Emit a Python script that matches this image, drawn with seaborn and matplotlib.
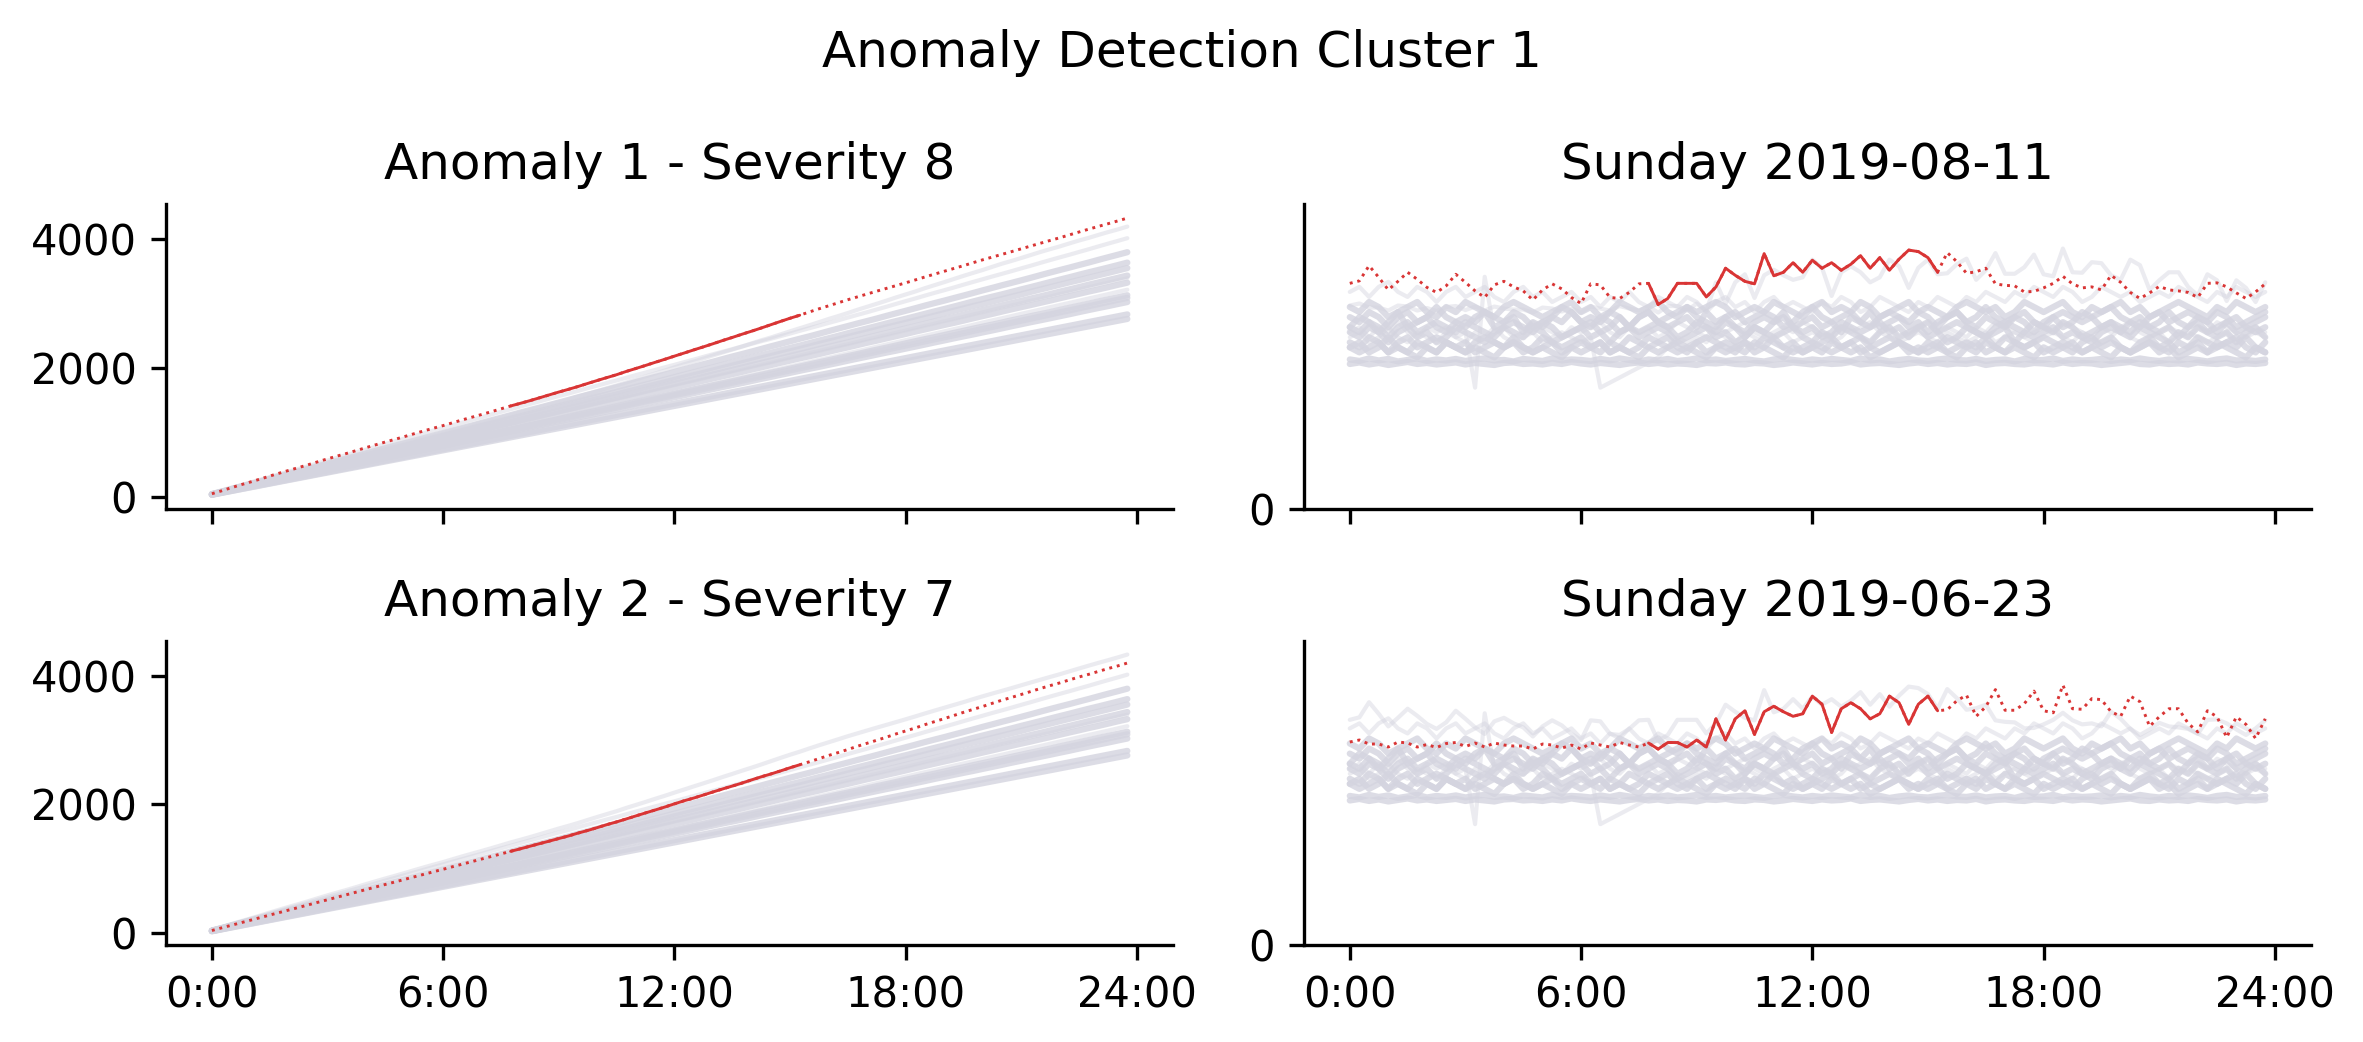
import numpy as np
import pandas as pd
import matplotlib
matplotlib.use("Agg")
import matplotlib.pyplot as plt
import seaborn as sns

# -----------------------------
# Data (15 minute slots, 96 per day)
# -----------------------------
n_slots = 96
hours = np.arange(n_slots) / 4

panel_titles = ["Anomaly 1 - Severity 8", "Anomaly 2 - Severity 7"]
day_titles = ["Sunday 2019-08-11", "Sunday 2019-06-23"]
x_ticks = [0, 6, 12, 18, 24]
x_tick_labels = ["0:00", "6:00", "12:00", "18:00", "24:00"]

anomaly_1 = [
    44.7, 45.2, 48.2, 45.9, 43.4, 45.1, 46.9, 45.5, 43.9, 42.9, 44.2, 46.5,
    44.9, 43.2, 41.9, 44.4, 45.1, 44.0, 43.2, 41.4, 43.4, 44.6, 43.6, 41.9,
    40.7, 44.6, 44.4, 41.9, 41.7, 42.9, 44.6, 44.7, 40.5, 41.7, 44.7, 44.7,
    44.7, 42.0, 44.0, 47.7, 46.3, 45.1, 44.6, 50.6, 46.2, 46.9, 48.8, 46.9,
    49.3, 47.7, 48.8, 47.3, 48.5, 50.2, 47.7, 49.8, 47.3, 49.5, 51.3, 51.0,
    49.8, 46.9, 50.8, 49.0, 46.7, 47.0, 47.7, 44.6, 44.3, 44.2, 43.0, 43.1,
    43.8, 44.7, 46.1, 44.6, 43.8, 44.0, 43.4, 46.3, 44.9, 42.9, 41.7, 42.8,
    44.1, 43.4, 43.2, 42.9, 41.9, 44.7, 44.8, 44.0, 42.8, 41.7, 43.0, 44.6,
]
anomaly_2 = [
    40.3, 40.7, 39.9, 39.9, 39.3, 40.3, 40.1, 39.3, 39.8, 39.2, 40.0, 40.2,
    39.4, 40.1, 39.3, 40.1, 39.7, 39.5, 39.5, 38.9, 39.9, 39.7, 39.1, 39.7,
    38.9, 40.1, 39.7, 39.3, 40.2, 39.7, 39.3, 40.1, 38.9, 40.2, 40.2, 39.3,
    40.7, 39.3, 44.9, 40.7, 44.9, 46.5, 41.8, 46.3, 47.4, 46.3, 45.4, 45.9,
    49.4, 47.8, 42.2, 46.9, 48.1, 46.9, 44.9, 45.9, 49.4, 48.1, 43.8, 47.8,
    49.4, 46.5, 46.7, 48.5, 49.6, 45.4, 47.3, 50.7, 46.6, 46.6, 47.9, 50.4,
    46.5, 46.1, 51.6, 46.9, 46.8, 48.9, 48.7, 46.3, 45.4, 49.4, 48.3, 43.4,
    45.3, 46.9, 46.9, 44.0, 42.3, 46.5, 45.3, 41.2, 45.3, 43.8, 41.0, 44.9,
]
# anomalous window (slot index start, end) for each row
windows = [(31, 61), (31, 61)]

# other days of the cluster (grey background)
bg_high = [
    43, 44, 42, 44, 45, 43, 42, 44, 43, 41, 43, 44,
    42, 43, 44, 42, 41, 43, 44, 42, 43, 41, 42, 43,
    41, 42, 40, 42, 41, 43, 41, 40, 42, 41, 40, 42,
    41, 39, 41, 42, 40, 41, 39, 41, 42, 40, 41, 40,
    39, 41, 40, 42, 41, 39, 40, 42, 41, 40, 39, 41,
    40, 42, 41, 40, 42, 41, 43, 42, 41, 43, 42, 44,
    43, 42, 44, 43, 41, 42, 44, 43, 42, 43, 41, 42,
    43, 42, 44, 43, 42, 41, 43, 42, 44, 43, 42, 43,
]
bg_1 = [
    40, 39, 41, 40, 38, 39, 40, 41, 39, 38, 40, 39,
    41, 40, 39, 38, 40, 41, 40, 39, 38, 39, 40, 41,
    39, 40, 38, 39, 41, 40, 39, 40, 41, 39, 38, 40,
    39, 40, 41, 40, 38, 39, 40, 39, 41, 40, 39, 38,
    40, 41, 39, 40, 39, 41, 40, 38, 39, 40, 41, 39,
    40, 39, 38, 40, 41, 40, 39, 40, 38, 39, 41, 40,
    39, 40, 41, 39, 38, 40, 39, 40, 41, 39, 40, 38,
    39, 40, 41, 40, 39, 38, 40, 39, 41, 40, 39, 40,
]
bg_2 = [
    38, 37, 39, 38, 36, 38, 39, 37, 38, 40, 38, 37,
    36, 38, 39, 38, 37, 39, 38, 36, 37, 38, 40, 39,
    37, 38, 37, 39, 38, 36, 38, 39, 37, 38, 39, 40,
    38, 37, 36, 38, 39, 37, 38, 39, 38, 36, 37, 39,
    40, 38, 37, 38, 39, 37, 36, 38, 39, 38, 37, 39,
    38, 36, 38, 39, 37, 38, 40, 38, 37, 38, 39, 37,
    36, 38, 39, 38, 37, 38, 39, 40, 38, 37, 36, 38,
    39, 37, 38, 39, 38, 37, 39, 38, 36, 37, 38, 39,
]
bg_3 = [
    36, 38, 37, 35, 37, 39, 36, 37, 38, 36, 35, 37,
    38, 37, 39, 36, 37, 38, 35, 37, 36, 38, 37, 39,
    37, 36, 38, 37, 35, 36, 38, 39, 37, 36, 37, 38,
    36, 39, 37, 38, 36, 35, 37, 38, 37, 39, 36, 37,
    38, 36, 37, 35, 38, 37, 39, 36, 37, 38, 36, 37,
    35, 37, 38, 39, 37, 36, 38, 37, 36, 38, 37, 35,
    37, 38, 36, 37, 39, 38, 36, 37, 35, 37, 38, 36,
    37, 39, 37, 36, 38, 37, 35, 37, 38, 36, 37, 38,
]
bg_4 = [
    36, 35, 37, 36, 34, 36, 37, 35, 36, 37, 36, 35,
    37, 36, 35, 34, 36, 37, 36, 35, 37, 36, 34, 35,
    36, 37, 35, 36, 38, 36, 35, 36, 37, 36, 34, 35,
    37, 36, 35, 37, 36, 34, 36, 35, 37, 38, 36, 35,
    36, 34, 35, 37, 36, 35, 36, 37, 35, 36, 34, 36,
    37, 35, 36, 37, 36, 35, 34, 36, 37, 36, 35, 37,
    36, 35, 37, 36, 34, 35, 36, 37, 36, 35, 37, 36,
    35, 36, 34, 36, 37, 35, 36, 37, 35, 36, 35, 36,
]
bg_5 = [
    35, 36, 34, 36, 35, 37, 35, 34, 36, 35, 36, 34,
    35, 24, 46, 35, 36, 34, 35, 37, 36, 35, 34, 36,
    35, 36, 37, 35, 34, 36, 35, 36, 34, 35, 37, 36,
    35, 34, 36, 35, 36, 37, 35, 34, 35, 36, 35, 37,
    36, 35, 34, 36, 35, 36, 37, 35, 36, 34, 35, 36,
    37, 35, 36, 35, 34, 36, 35, 37, 36, 35, 34, 35,
    36, 35, 37, 36, 35, 34, 36, 35, 36, 37, 35, 34,
    35, 36, 35, 34, 36, 35, 37, 36, 35, 34, 36, 35,
]
bg_6 = [
    35, 34, 36, 35, 33, 35, 36, 34, 35, 33, 34, 36,
    35, 34, 33, 35, 36, 35, 34, 36, 35, 33, 34, 35,
    36, 34, 35, 33, 35, 36, 34, 35, 36, 35, 33, 34,
    35, 36, 34, 35, 33, 34, 36, 35, 34, 35, 36, 34,
    33, 35, 34, 36, 35, 34, 33, 35, 36, 34, 35, 36,
    34, 35, 33, 34, 36, 35, 34, 35, 36, 33, 35, 34,
    35, 36, 34, 35, 34, 33, 35, 36, 35, 34, 36, 35,
    34, 33, 35, 34, 36, 35, 34, 35, 33, 35, 36, 34,
]
bg_7 = [
    34, 35, 33, 34, 36, 34, 33, 35, 34, 33, 35, 34,
    33, 35, 34, 36, 34, 33, 34, 35, 33, 34, 35, 34,
    33, 34, 24, 25, 26, 27, 28, 29, 30, 32, 34, 33,
    34, 33, 35, 34, 33, 35, 34, 33, 34, 35, 33, 34,
    35, 34, 33, 34, 36, 34, 33, 35, 34, 33, 34, 35,
    34, 33, 35, 34, 33, 34, 35, 33, 34, 35, 34, 33,
    34, 35, 34, 33, 35, 34, 33, 34, 36, 34, 33, 34,
    35, 33, 34, 35, 34, 33, 34, 35, 33, 34, 35, 34,
]
bg_8 = [
    33, 32, 34, 33, 31, 33, 34, 32, 33, 34, 33, 32,
    31, 33, 34, 33, 32, 33, 31, 32, 34, 33, 32, 33,
    34, 32, 33, 31, 32, 34, 33, 32, 33, 34, 32, 31,
    33, 34, 33, 32, 31, 33, 32, 34, 33, 32, 33, 31,
    32, 33, 34, 32, 33, 31, 32, 33, 34, 33, 32, 31,
    33, 32, 34, 33, 32, 33, 31, 32, 34, 33, 32, 33,
    34, 33, 32, 31, 33, 34, 32, 33, 32, 31, 33, 34,
    32, 33, 31, 32, 34, 33, 32, 33, 34, 32, 31, 33,
]
bg_9 = [
    32, 33, 31, 32, 34, 32, 31, 33, 32, 31, 33, 32,
    33, 31, 32, 33, 32, 34, 32, 31, 32, 33, 31, 32,
    33, 32, 31, 33, 32, 31, 32, 34, 33, 32, 31, 32,
    33, 31, 32, 33, 32, 31, 33, 32, 34, 32, 31, 32,
    33, 32, 31, 32, 33, 34, 32, 31, 32, 33, 32, 31,
    32, 33, 31, 32, 33, 32, 34, 32, 31, 33, 32, 33,
    31, 32, 33, 32, 31, 32, 33, 34, 32, 31, 32, 33,
    32, 31, 33, 32, 33, 31, 32, 33, 32, 34, 32, 31,
]
bg_10 = [
    32, 31, 32, 33, 31, 32, 31, 30, 32, 31, 33, 32,
    31, 32, 31, 30, 32, 33, 32, 31, 32, 31, 30, 32,
    31, 32, 33, 31, 32, 31, 30, 32, 31, 32, 33, 32,
    31, 30, 32, 31, 32, 33, 31, 32, 31, 30, 32, 31,
    32, 31, 33, 32, 31, 32, 30, 31, 32, 33, 31, 32,
    31, 32, 31, 30, 32, 31, 33, 32, 31, 32, 31, 30,
    32, 31, 32, 33, 31, 32, 31, 30, 32, 31, 32, 33,
    31, 32, 30, 31, 32, 31, 33, 32, 31, 30, 32, 31,
]
bg_low_1 = [
    29.6, 29.3, 29.8, 29.4, 29.7, 29.2, 29.5, 29.8, 29.3, 29.6, 29.4, 29.7,
    29.3, 29.6, 29.8, 29.4, 29.5, 29.2, 29.7, 29.5, 29.3, 29.8, 29.4, 29.6,
    29.5, 29.3, 29.7, 29.4, 29.8, 29.5, 29.2, 29.6, 29.4, 29.7, 29.3, 29.5,
    29.8, 29.4, 29.6, 29.3, 29.5, 29.7, 29.4, 29.2, 29.6, 29.8, 29.5, 29.3,
    29.6, 29.4, 29.7, 29.5, 29.3, 29.8, 29.4, 29.6, 29.2, 29.5, 29.7, 29.4,
    29.3, 29.6, 29.8, 29.5, 29.4, 29.7, 29.3, 29.5, 29.6, 29.2, 29.7, 29.4,
    29.5, 29.8, 29.3, 29.6, 29.4, 29.5, 29.7, 29.3, 29.6, 29.4, 29.8, 29.5,
    29.3, 29.6, 29.4, 29.7, 29.5, 29.2, 29.6, 29.8, 29.4, 29.5, 29.3, 29.6,
]
bg_low_2 = [
    28.7, 29.0, 28.6, 28.9, 28.5, 28.8, 29.1, 28.7, 28.9, 28.6, 28.8, 29.0,
    28.6, 28.9, 28.7, 28.5, 28.9, 29.0, 28.7, 28.8, 28.6, 28.9, 28.7, 29.1,
    28.8, 28.6, 28.9, 28.7, 28.5, 28.8, 29.0, 28.7, 28.9, 28.6, 28.8, 28.7,
    28.5, 28.9, 28.8, 29.0, 28.7, 28.6, 28.9, 28.8, 28.5, 28.7, 29.0, 28.8,
    28.6, 28.9, 28.7, 28.8, 29.1, 28.6, 28.8, 28.9, 28.7, 28.5, 28.8, 29.0,
    28.7, 28.9, 28.6, 28.8, 28.7, 29.0, 28.5, 28.8, 28.9, 28.7, 28.6, 28.9,
    28.8, 28.6, 29.0, 28.7, 28.9, 28.8, 28.5, 28.7, 28.9, 29.1, 28.7, 28.6,
    28.9, 28.7, 28.8, 28.6, 29.0, 28.8, 28.7, 28.9, 28.5, 28.8, 28.7, 28.9,
]

# dense core of the cluster and the few stray days drawn fainter
core_days = {
    "b1": bg_1, "b2": bg_2, "b3": bg_3, "b4": bg_4, "b6": bg_6,
    "b8": bg_8, "b9": bg_9, "b10": bg_10, "low1": bg_low_1, "low2": bg_low_2,
}
stray_days = {"high": bg_high, "b5": bg_5, "b7": bg_7}
anomalies = [anomaly_1, anomaly_2]

for name, vals in list(core_days.items()) + list(stray_days.items()) + [("a1", anomaly_1), ("a2", anomaly_2)]:
    assert len(vals) == n_slots, (name, len(vals))

GREY = "#d4d4df"
RED = "#d93535"


def long_frame(days):
    df = pd.concat(
        [pd.DataFrame({"day": k, "hour": hours, "value": v}) for k, v in days.items()],
        ignore_index=True,
    )
    df["cum"] = df.groupby("day")["value"].cumsum()
    return df


# -----------------------------
# Plot
# -----------------------------
sns.set_style("ticks", {
    "axes.edgecolor": "black", "text.color": "black", "axes.labelcolor": "black",
    "xtick.color": "black", "ytick.color": "black",
})
plt.rcParams["font.family"] = ["DejaVu Sans"]

fig, axes = plt.subplots(2, 2, figsize=(2363 / 300, 1042 / 300), dpi=300, sharex="col")
fig.subplots_adjust(left=0.0703, right=0.978, top=0.804, bottom=0.093, wspace=0.13, hspace=0.434)

core = long_frame(core_days)

for row in range(2):
    # stray days include the anomaly day of the other row
    strays = dict(stray_days)
    strays["other"] = anomalies[1 - row]
    stray = long_frame(strays)

    red = pd.DataFrame({"hour": hours, "value": anomalies[row]})
    red["cum"] = red["value"].cumsum()
    s, e = windows[row]
    win = red.iloc[s:e + 1]

    for col, ycol in enumerate(["cum", "value"]):
        ax = axes[row, col]
        sns.lineplot(data=stray, x="hour", y=ycol, units="day", estimator=None,
                     color=GREY, alpha=0.45, lw=1.0, legend=False, ax=ax)
        sns.lineplot(data=core, x="hour", y=ycol, units="day", estimator=None,
                     color=GREY, alpha=0.8, lw=1.5, legend=False, ax=ax)
        sns.lineplot(data=red, x="hour", y=ycol, color=RED, lw=0.7,
                     linestyle=":", ax=ax)
        sns.lineplot(data=win, x="hour", y=ycol, color=RED, lw=0.7, ax=ax)
        ax.set(xlabel="", ylabel="")
        ax.set_xticks(x_ticks)
        ax.set_xticklabels(x_tick_labels)

    axes[row, 0].set_title(panel_titles[row], fontsize=12)
    axes[row, 1].set_title(day_titles[row], fontsize=12)
    axes[row, 1].set_ylim(0, 60.4)
    axes[row, 1].set_yticks([0])

sns.despine(fig=fig)
fig.suptitle("Anomaly Detection Cluster 1", fontsize=12, y=1 - 53 / 1042, va="center")

fig.savefig("out.png", dpi=300)
